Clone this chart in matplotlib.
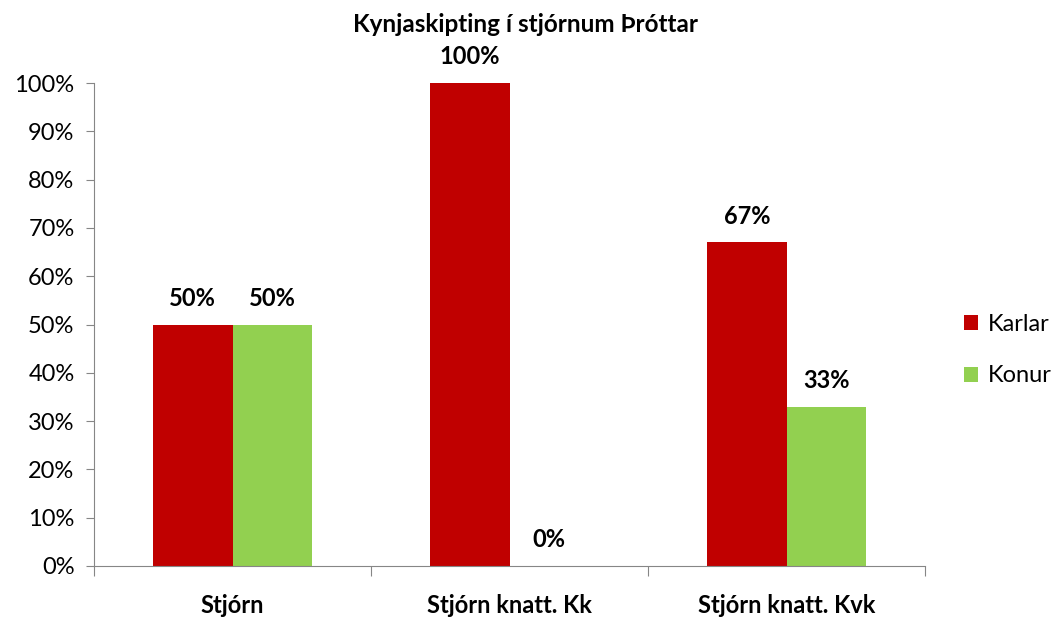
import matplotlib.pyplot as plt
import numpy as np
from matplotlib.ticker import FuncFormatter

plt.rcParams['font.family'] = ['Lato', 'DejaVu Sans']

categories = ["Stjórn", "Stjórn knatt. Kk", "Stjórn knatt. Kvk"]
karlar = [50, 100, 67]
konur = [50, 0, 33]
series_names = ["Karlar", "Konur"]
title = "Kynjaskipting í stjórnum Þróttar"

red = "#C00000"
green = "#92D050"
axis_gray = "#868686"

fig = plt.figure(figsize=(10.53, 6.17), dpi=100)
ax = fig.add_axes([94 / 1053, 1 - 566 / 617, (925 - 94) / 1053, (566 - 83) / 617])

x = np.arange(len(categories))
w = 0.287
b1 = ax.bar(x - w / 2, karlar, w, color=red, label=series_names[0])
b2 = ax.bar(x + w / 2, konur, w, color=green, label=series_names[1])

for bars, vals in ((b1, karlar), (b2, konur)):
    for rect, v in zip(bars, vals):
        ax.annotate(f"{v}%", (rect.get_x() + rect.get_width() / 2, v),
                    xytext=(0, 19), textcoords="offset points",
                    ha="center", va="center", fontsize=17, fontweight="bold")

ax.set_xlim(-0.5, len(categories) - 0.5)
ax.set_ylim(0, 100)
ax.set_yticks(np.arange(0, 101, 10))
ax.yaxis.set_major_formatter(FuncFormatter(lambda v, p: f"{int(v)}%"))
ax.tick_params(axis="y", labelsize=17, length=6, color=axis_gray, pad=8)

# category labels between tick marks
ax.set_xticks(np.arange(-0.5, len(categories), 1.0))
ax.set_xticklabels([])
ax.set_xticks(x, minor=True)
ax.set_xticklabels(categories, minor=True, fontsize=17, fontweight="bold")
ax.tick_params(axis="x", which="major", length=7, color=axis_gray)
ax.tick_params(axis="x", which="minor", length=0, pad=20)

for s in ("top", "right"):
    ax.spines[s].set_visible(False)
for s in ("left", "bottom"):
    ax.spines[s].set_color(axis_gray)

fig.text(0.499, 1 - 25 / 617, title, ha="center", va="center",
         fontsize=17.5, fontweight="bold")

fig.legend(handles=[b1, b2], loc="center left", bbox_to_anchor=(964 / 1053, 1 - 350 / 617),
           frameon=False, borderpad=0, borderaxespad=0, fontsize=17,
           handlelength=0.6, handleheight=0.6,
           labelspacing=1.3, handletextpad=0.4)

fig.savefig("out.png", dpi=100)
